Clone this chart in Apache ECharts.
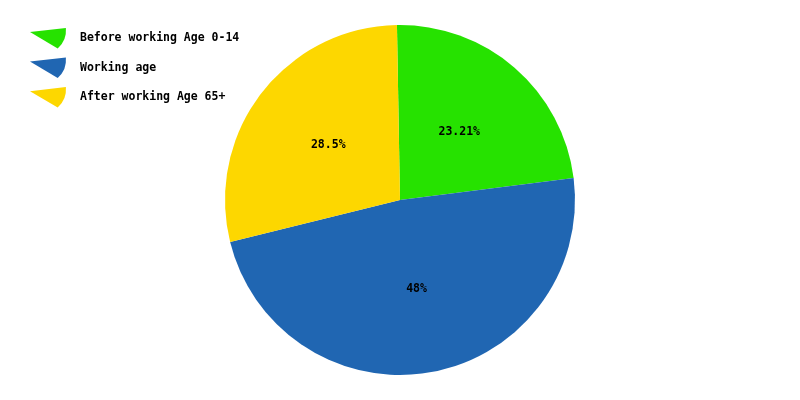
<!DOCTYPE html>
<html>
<head>
    <meta charset="UTF-8">
    <title>Age structure</title>
    <script src="https://cdn.jsdelivr.net/npm/echarts@6/dist/echarts.min.js"></script>
</head>
<body style="margin:0;background:#fff;">
    <div id="ageBox" style="width:800px;height:400px;"></div>
    <script>
        // age groups and their shares (%)
        var groupNames = ['Before working Age 0-14', 'Working age', 'After working Age 65+'];
        var groupValues = [23.21, 48, 28.5];
        var groupColors = ['#26e200', '#2066b2', '#fdd700'];

        function ageChart(idname) {
            var myChart = echarts.init(document.getElementById(idname));
            var wedge = 'path://M0,4 L35,0 Q36,12 27,20 Z';

            var option = {
                animation: false,
                color: groupColors,
                legend: {
                    orient: 'vertical',
                    left: 30,
                    top: 28,
                    padding: 0,
                    itemWidth: 36,
                    itemHeight: 21,
                    itemGap: 9,
                    icon: wedge,
                    data: groupNames,
                    textStyle: {
                        fontFamily: 'DejaVu Sans Mono',
                        fontWeight: 'bold',
                        fontSize: 11.5,
                        color: '#000',
                        padding: [0, 0, 0, 9]
                    }
                },
                series: [{
                    type: 'pie',
                    center: [400, 200],
                    radius: 175,
                    startAngle: 91,
                    clockwise: true,
                    label: {
                        show: true,
                        position: 'inside',
                        fontFamily: 'DejaVu Sans Mono',
                        fontWeight: 'bold',
                        fontSize: 11.5,
                        color: '#000',
                        formatter: function (p) {
                            return p.value + '%';
                        }
                    },
                    labelLine: { show: false },
                    emphasis: { disabled: true },
                    data: groupNames.map(function (n, i) {
                        return { name: n, value: groupValues[i] };
                    })
                }]
            };

            myChart.setOption(option);
        }

        ageChart('ageBox');
    </script>
</body>
</html>
